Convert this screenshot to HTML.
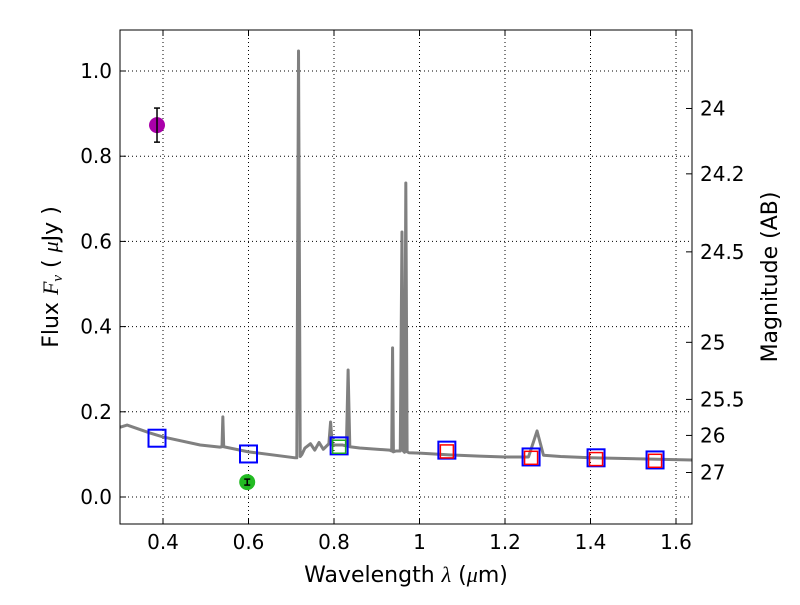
<!DOCTYPE html>
<html><head><meta charset="utf-8"><style>
body{margin:0;background:#fff;}
svg text{font-family:"DejaVu Sans","Liberation Sans",sans-serif;}
</style></head><body>
<svg id="chart" width="800" height="600" viewBox="0 0 800 600" xmlns="http://www.w3.org/2000/svg">
<rect width="800" height="600" fill="#fff"/>
<g id="grid"></g>
<g id="spec"></g>
<g id="phot"></g>
<g id="axes"></g>
<text x="406" y="582" font-size="22" text-anchor="middle">Wavelength  <tspan font-family="Liberation Serif" font-style="italic">λ</tspan> (<tspan font-family="Liberation Serif" font-style="italic">μ</tspan>m)</text>
<text transform="translate(58,277) rotate(-90)" font-size="22" text-anchor="middle">Flux  <tspan font-family="Liberation Serif" font-style="italic">F<tspan font-size="15" dy="4">ν</tspan></tspan><tspan dy="-4">  ( </tspan><tspan font-family="Liberation Serif" font-style="italic">μ</tspan>Jy )</text>
<text transform="translate(777,277) rotate(-90)" font-size="22" text-anchor="middle">Magnitude (AB)</text>
</svg>
<script>
const xTicks=[0.4,0.6,0.8,1.0,1.2,1.4,1.6];
const xTickLabels=["0.4","0.6","0.8","1","1.2","1.4","1.6"];
const yTicks=[0,0.2,0.4,0.6,0.8,1.0];
const yTickLabels=["0.0","0.2","0.4","0.6","0.8","1.0"];
const magTicks=[24,24.2,24.5,25,25.5,26,27];
const magLabels=["24","24.2","24.5","25","25.5","26","27"];
const specWave=[0.30,0.316,0.37,0.40,0.487,0.533,0.538,0.54,0.542,0.60,0.709,0.713,0.717,0.721,0.725,0.732,0.745,0.755,0.765,0.775,0.788,0.792,0.796,0.82,0.829,0.833,0.837,0.86,0.93,0.935,0.937,0.939,0.945,0.955,0.959,0.962,0.965,0.968,0.971,0.975,1.0,1.07,1.14,1.2,1.255,1.275,1.29,1.33,1.4,1.637];
const specFlux=[0.164,0.169,0.150,0.141,0.122,0.117,0.118,0.188,0.118,0.106,0.092,0.092,1.047,0.095,0.10,0.115,0.125,0.110,0.128,0.112,0.125,0.176,0.122,0.122,0.120,0.298,0.118,0.115,0.110,0.108,0.35,0.106,0.108,0.108,0.622,0.108,0.105,0.737,0.106,0.104,0.103,0.099,0.096,0.094,0.094,0.155,0.098,0.095,0.092,0.087];
const obsWave=[0.386,0.597];
const obsFlux=[0.873,0.035];
const obsErr=[0.04,0.007];
const obsColor=["#aa00aa","#22bb22"];
const modelWave=[0.386,0.60,0.812,1.064,1.261,1.413,1.551];
const modelFlux=[0.138,0.101,0.120,0.110,0.094,0.092,0.087];
const greenWave=[0.812];
const greenFlux=[0.118];
const redWave=[1.064,1.261,1.413,1.551];
const redFlux=[0.107,0.092,0.089,0.085];
const L=120,R=692,T=30,B=524;
const X=w=>163+(w-0.4)*427.5;
const Y=f=>497-f*426;
const NS="http://www.w3.org/2000/svg";
function mk(tag,parent,attrs){const e=document.createElementNS(NS,tag);for(const k in attrs)e.setAttribute(k,attrs[k]);parent.appendChild(e);return e;}
const grid=document.getElementById('grid'),axes=document.getElementById('axes'),spec=document.getElementById('spec'),phot=document.getElementById('phot');
xTicks.forEach((t,i)=>{const x=X(t);
 const g=mk('line',grid,{x1:x,x2:x,y1:T,y2:B,stroke:'#000','stroke-dasharray':'1,3','stroke-width':1});
 
 mk('line',axes,{x1:x,x2:x,y1:B,y2:B-6,stroke:'#000'});mk('line',axes,{x1:x,x2:x,y1:T,y2:T+6,stroke:'#000'});
 const tx=mk('text',axes,{x:x,y:B+25,'font-size':20,'text-anchor':'middle'});tx.textContent=xTickLabels[i];
 });
yTicks.forEach((t,i)=>{const y=Y(t);
 const g=mk('line',grid,{x1:L,x2:R,y1:y,y2:y,stroke:'#000','stroke-dasharray':'1,3','stroke-width':1});
 
 mk('line',axes,{x1:L,x2:L+6,y1:y,y2:y,stroke:'#000'});
 const tx=mk('text',axes,{x:L-8,y:y+7,'font-size':20,'text-anchor':'end'});tx.textContent=yTickLabels[i];
 });
magTicks.forEach((m,i)=>{const y=Y(Math.pow(10,(23.9-m)/2.5));
 mk('line',axes,{x1:R,x2:R-6,y1:y,y2:y,stroke:'#000'});
 const tx=mk('text',axes,{x:R+8,y:y+7,'font-size':20});tx.textContent=magLabels[i];
 });
const pl=mk('polyline',spec,{points:specWave.map((w,i)=>X(w)+','+Y(specFlux[i])).join(' '),fill:'none',stroke:'#808080','stroke-width':3,'stroke-linejoin':'round'});

modelWave.forEach((w,i)=>{const s=mk('rect',phot,{x:X(w)-8.5,y:Y(modelFlux[i])-8.5,width:17,height:17,fill:'none',stroke:'#0000ff','stroke-width':2});
 });
greenWave.forEach((w,i)=>{const s=mk('rect',phot,{x:X(w)-6.5,y:Y(greenFlux[i])-6.5,width:13,height:13,fill:'none',stroke:'#22aa22','stroke-width':1.5});
 });
redWave.forEach((w,i)=>{const s=mk('rect',phot,{x:X(w)-6.5,y:Y(redFlux[i])-6.5,width:13,height:13,fill:'none',stroke:'#ff0000','stroke-width':1.5});
 });
obsWave.forEach((w,i)=>{const x=X(w),y=Y(obsFlux[i]);
 const c=mk('circle',phot,{cx:x,cy:y,r:8,fill:obsColor[i]});
 
 const y1=Y(obsFlux[i]+obsErr[i]),y2=Y(obsFlux[i]-obsErr[i]);
 mk('line',phot,{x1:x,x2:x,y1:y1,y2:y2,stroke:'#000','stroke-width':1.5});
 mk('line',phot,{x1:x-3,x2:x+3,y1:y1,y2:y1,stroke:'#000','stroke-width':1.5});
 mk('line',phot,{x1:x-3,x2:x+3,y1:y2,y2:y2,stroke:'#000','stroke-width':1.5});});
const fr=mk('rect',axes,{x:L,y:T,width:R-L,height:B-T,fill:'none',stroke:'#000','stroke-width':1});

</script>
</body></html>
